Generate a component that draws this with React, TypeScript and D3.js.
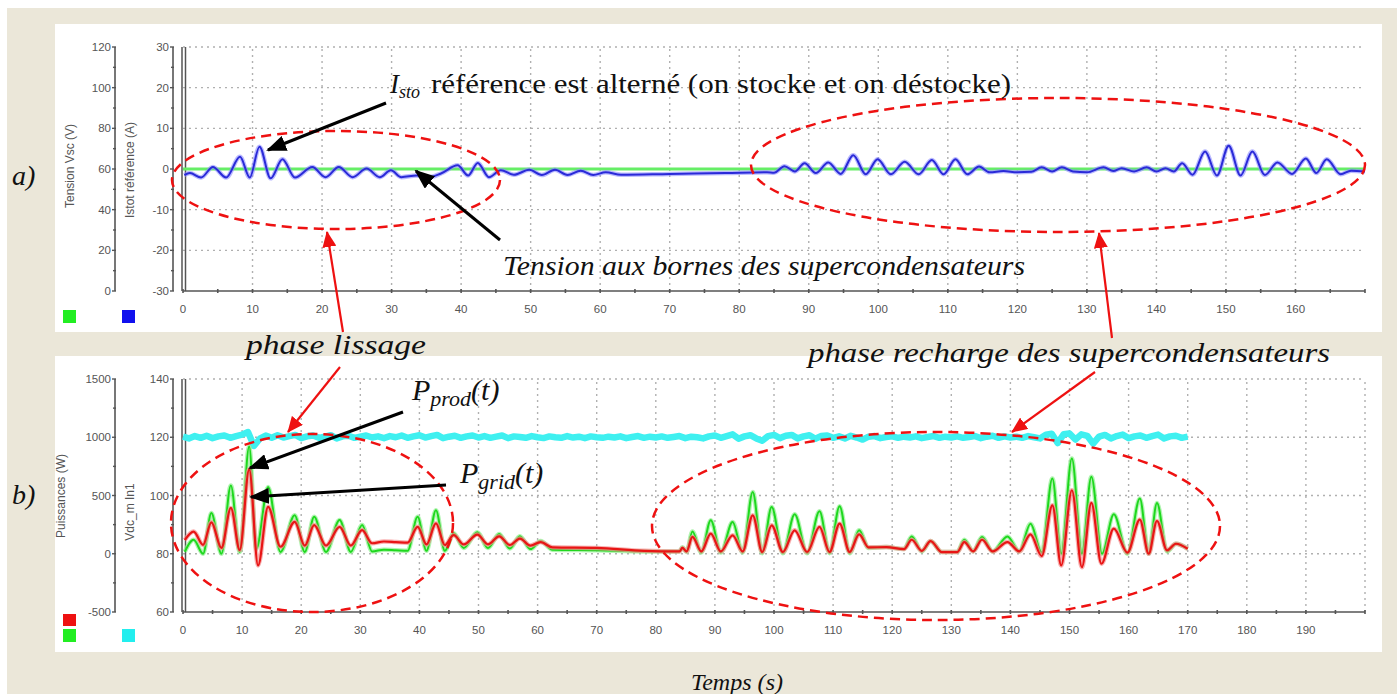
import React from 'react';
import * as d3 from 'd3';

// ---------- DATA ----------
const topXTicks = [0, 10, 20, 30, 40, 50, 60, 70, 80, 90, 100, 110, 120, 130, 140, 150, 160];
const botXTicks = [0, 10, 20, 30, 40, 50, 60, 70, 80, 90, 100, 110, 120, 130, 140, 150, 160, 170, 180, 190];
const vscTicks = [0, 20, 40, 60, 80, 100, 120];
const istoTicks = [-30, -20, -10, 0, 10, 20, 30];
const puisTicks = [-500, 0, 500, 1000, 1500];
const vdcTicks = [60, 80, 100, 120, 140];

// Tension Vsc (green, top) — constant reading on Istot scale 0
const vscLine: [number, number][] = [[0, 0], [170, 0]];

// Istot référence (A) — blue
const istoRef: [number, number][] = [
  [0.2, -1.5], [1.0, -1.0], [2.6, -2.1], [4.3, 0.5], [6.2, -2.1], [8.2, 3.0], [9.6, -2.1], [11.0, 5.5],
  [12.6, -2.3], [14.3, 2.4], [16.1, -2.1], [18.6, 0.5], [20.5, -2.0], [22.4, 0.5], [24.4, -2.0], [26.4, 0.1],
  [28.3, -2.0], [29.9, -0.3], [31.4, -2.0], [33.6, -1.6], [35.5, -2.0], [37.1, -1.1], [39.5, 0.9], [41.0, -1.6],
  [42.4, 1.5], [44.0, -2.0], [45.7, -0.3], [47.6, -1.4], [49.8, -0.2], [51.6, -1.5], [53.5, -0.2], [55.3, -1.5],
  [57.2, -0.4], [59.0, -1.5], [60.8, -0.8], [63, -1.4], [70, -1.2], [78, -1.0], [84, -0.8], [85, -0.9],
  [86.5, 0.7], [88, -0.6], [89.4, 1.4], [91, -1.0], [92.8, 1.6], [94.6, -1.2], [96.4, 3.4], [98.2, -1.3],
  [99.9, 2.4], [101.8, -1.3], [103.8, 1.8], [105.8, -1.3], [107.7, 2.2], [109.4, -1.3], [111.1, 2.4], [112.8, -1.3],
  [114.5, 0.6], [116, -0.8], [118, -0.5], [120, -0.8], [122, -0.7], [123.5, 0.4], [125, -0.6], [126.4, 0.4],
  [128, -0.6], [130, -0.8], [132.4, 0.4], [133.8, -0.5], [135, 0.2], [136.8, -0.6], [138.6, 0.4], [140, -0.6],
  [141.3, 0.2], [142.5, -0.6], [143.7, 1.4], [145.2, -1.4], [147, 4.3], [148.7, -1.6], [150.4, 5.7], [152.1, -1.6],
  [153.8, 4.3], [155.6, -1.5], [157.4, 1.6], [159.5, -1.2], [161.5, 2.6], [163, -1.0], [164.5, 2.4], [166.5, -1.3],
  [168, -0.4], [170, -0.6],
];

// P_prod (W) — green
const pProd: [number, number][] = [
  [0.3, 17], [1.8, 120], [3.4, 0], [4.8, 350], [6.5, 0], [8.1, 585], [9.6, 15], [11.2, 920], [12.4, 40],
  [14.4, 574], [16.5, 15], [18.9, 331], [20.6, 15], [22.2, 317], [24.2, 15], [26.5, 289], [28.4, 15], [30.3, 246],
  [32, 20], [34, 35], [36, 30], [38, 25], [39.7, 317], [41.2, 25], [42.8, 374], [44.3, 25], [45.8, 175],
  [47.5, 50], [49.8, 185], [51.6, 50], [53.5, 170], [55.3, 45], [57, 150], [58.8, 40], [60.5, 110], [62.5, 35],
  [70, 30], [78, 20], [84, 20], [84.5, 55], [85.2, 15], [86.2, 190], [87.7, 10], [89.3, 287], [91, 10],
  [93, 273], [94.7, 10], [96.4, 531], [98, 5], [99.6, 402], [101.5, 5], [103.5, 339], [105.6, 5], [107.7, 364],
  [109.4, 5], [111.1, 408], [112.8, 5], [114.4, 201], [116, 50], [119, 57], [122, 40], [123.3, 149], [125, 20],
  [126.5, 109], [128.4, 14], [131, 14], [132.2, 120], [133.7, 20], [135.2, 143], [137, 20], [139.5, 149],
  [141.5, 20], [143.4, 258], [145.3, 10], [147.1, 646], [148.6, 0], [150.4, 818], [152.1, 0], [153.7, 660],
  [155.5, 0], [157.5, 339], [159.8, 0], [161.9, 474], [163.4, 0], [164.8, 436], [166.5, 20], [168, 86], [170, 43],
];

// P_grid (W) — red
const pGrid: [number, number][] = [
  [0.3, 118], [1.8, 190], [3.4, 76], [4.8, 270], [6.5, 50], [8.1, 393], [9.6, 32], [11.2, 725], [12.7, -100],
  [14.4, 403], [16.5, 60], [18.9, 274], [20.6, 70], [22.2, 246], [24.2, 70], [26.5, 231], [28.4, 70], [30.3, 203],
  [32, 90], [34, 105], [36, 100], [38, 95], [39.7, 231], [41.2, 80], [42.8, 260], [44.3, 75], [45.8, 160],
  [47.5, 80], [49.8, 165], [51.6, 80], [53.5, 150], [55.3, 75], [57, 130], [58.8, 70], [60.5, 100], [62.5, 55],
  [70, 50], [78, 25], [84, 20], [84.5, 50], [85.2, 20], [86.2, 144], [87.7, 20], [89.3, 172], [91, 20],
  [93, 158], [94.7, 20], [96.4, 330], [98, 15], [99.6, 244], [101.5, 15], [103.5, 201], [105.6, 15], [107.7, 230],
  [109.4, 15], [111.1, 258], [112.8, 15], [114.4, 166], [116, 55], [119, 57], [122, 40], [123.3, 120], [125, 25],
  [126.5, 109], [128.4, 14], [131, 14], [132.2, 100], [133.7, 20], [135.2, 120], [137, 20], [139.5, 100],
  [141.5, 20], [143.4, 166], [145.3, -20], [147.1, 416], [148.6, -100], [150.4, 545], [152.1, -115], [153.7, 436],
  [155.4, -86], [157.5, 215], [159.8, 10], [161.9, 293], [163.4, 0], [164.8, 281], [166.5, 30], [168, 86], [170, 43],
];

// Vdc_m (V) — cyan, one reading per second from 0 to 170 s
const vdcM: number[] = [
  120.2, 119.6, 120.4, 119.8, 120.5, 119.7, 120.3, 120.6, 119.8, 120.4, 120.9,
  121.8, 117.0, 119.5, 120.6, 119.8, 120.7, 119.9, 120.4, 120.8, 119.7,
  120.3, 120.6, 119.8, 120.2, 120.7, 119.6, 120.3, 120.5, 119.8, 120.2,
  120.6, 119.9, 120.3, 119.7, 120.4, 120.0, 120.6, 119.8, 120.3, 120.7,
  119.9, 120.4, 120.8, 119.7, 120.2, 120.5, 119.8, 120.3, 120.6, 119.9,
  120.4, 119.8, 120.2, 120.6, 119.7, 120.3, 120.1, 119.8, 120.4, 120.0,
  119.7, 120.3, 120.0, 119.8, 120.4, 119.9, 120.2, 119.7, 120.3, 120.0,
  119.8, 120.2, 119.9, 120.3, 119.7, 120.1, 120.4, 119.8, 120.2, 119.9,
  120.3, 119.8, 120.1, 120.4, 119.7, 120.2, 120.0, 119.6, 120.3, 120.6,
  119.8, 120.4, 121.0, 119.5, 120.3, 120.7, 119.6, 118.8, 120.4, 120.8,
  119.7, 120.5, 120.8, 119.6, 120.3, 120.7, 119.5, 120.4, 120.6, 119.8,
  120.3, 119.6, 120.5, 119.9, 119.2, 120.2, 120.4, 119.7, 120.1, 120.3,
  119.8, 120.2, 119.9, 120.3, 119.7, 120.1, 120.4, 119.8, 120.2, 119.9,
  120.3, 119.8, 120.1, 120.4, 119.7, 120.2, 120.5, 119.8, 120.3, 119.9,
  120.2, 119.8, 120.4, 120.0, 119.6, 120.9, 121.2, 118.0, 121.0, 121.3,
  119.2, 121.0, 120.5, 117.8, 120.2, 120.8, 119.6, 120.4, 120.9, 119.7,
  120.3, 120.6, 119.8, 120.4, 120.9, 119.6, 120.3, 120.5, 119.8, 120.2,
];

// ---------- LAYOUT ----------
const W = 1397;
const H = 694;
const BEIGE = '#ebe7d9';
const AXIS = '#555';
const TICKTXT = '#555';
const GRID = '#b0b0b0';

const xTop = d3.scaleLinear().domain([0, 170]).range([183, 1365]);
const yIsto = d3.scaleLinear().domain([-30, 30]).range([291, 47]);
const yVsc = d3.scaleLinear().domain([0, 120]).range([291, 47]);
const xBot = d3.scaleLinear().domain([0, 200]).range([183, 1365]);
const yVdc = d3.scaleLinear().domain([60, 140]).range([612, 379]);
const yPuis = d3.scaleLinear().domain([-500, 1500]).range([612, 379]);

const tickFont = { fontFamily: '"Liberation Sans", Arial, sans-serif', fontSize: 11.5, fill: TICKTXT } as const;
const serif = '"Liberation Serif", "Times New Roman", serif';

function VAxis({ x, scale, ticks, label, labelX, labelY }: any) {
  const [d0, d1] = scale.domain();
  const step = ticks[1] - ticks[0];
  const minors = ticks.slice(0, -1).map((t: number) => t + step / 2);
  return (
    <g>
      <line x1={x} x2={x} y1={scale(d0)} y2={scale(d1)} stroke={AXIS} strokeWidth={1.6} />
      {ticks.map((t: number) => (
        <g key={'t' + t}>
          <line x1={x - 3} x2={x + 1} y1={scale(t)} y2={scale(t)} stroke={AXIS} strokeWidth={1.4} />
          <text x={x - 4} y={scale(t) + 4} textAnchor="end" {...tickFont}>{t}</text>
        </g>
      ))}
      {minors.map((t: number) => (
        <line key={'m' + t} x1={x - 2} x2={x + 1} y1={scale(t)} y2={scale(t)} stroke={AXIS} strokeWidth={1.4} />
      ))}
      <text transform={`translate(${labelX},${labelY}) rotate(-90)`} textAnchor="middle" {...tickFont} fontSize={12}>{label}</text>
    </g>
  );
}

function HAxis({ y, scale, ticks }: any) {
  const [d0, d1] = scale.domain();
  const minors = d3.range(d0, d1 + 0.001, 5);
  return (
    <g>
      <line x1={scale(d0)} x2={scale(d1)} y1={y} y2={y} stroke={AXIS} strokeWidth={1.6} />
      {minors.map((t: number) => (
        <line key={'m' + t} x1={scale(t)} x2={scale(t)} y1={y - 2} y2={y + 2} stroke={AXIS} strokeWidth={1.6} />
      ))}
      {ticks.map((t: number) => (
        <text key={'l' + t} x={scale(t)} y={y + 22} textAnchor="middle" {...tickFont}>{t}</text>
      ))}
    </g>
  );
}

function Grid({ xs, ys, xVals, yVals }: any) {
  const [x0, x1] = xs.range();
  const [y0, y1] = ys.range();
  return (
    <g stroke={GRID} strokeWidth={1.4} strokeDasharray="2,4">
      {yVals.map((v: number) => (
        <line key={'h' + v} x1={x0} x2={x1} y1={ys(v)} y2={ys(v)} />
      ))}
      {xVals.map((v: number) => (
        <line key={'v' + v} x1={xs(v)} x2={xs(v)} y1={y0} y2={y1} />
      ))}
    </g>
  );
}

export default function App() {
  const lineTop = d3.line<[number, number]>().x(d => xTop(d[0])).y(d => yIsto(d[1])).curve(d3.curveMonotoneX);
  const lineP = d3.line<[number, number]>().x(d => xBot(d[0])).y(d => yPuis(d[1])).curve(d3.curveMonotoneX);
  const lineVdc = d3.line<number>().x((_, i) => xBot(i)).y(d => yVdc(d)).curve(d3.curveLinear);

  const topGridX = topXTicks.filter(t => t > 0);
  const botGridX = [...botXTicks.filter(t => t > 0), 200];

  return (
    <div style={{ position: 'absolute', left: 0, top: 0 }}>
      <svg width={W} height={H} viewBox={`0 0 ${W} ${H}`} style={{ display: 'block' }}>
        <defs>
          <marker id="ahBlack" markerUnits="userSpaceOnUse" markerWidth={20} markerHeight={16} refX={18} refY={8} orient="auto">
            <path d="M0,0 L20,8 L0,16 Z" fill="#000" />
          </marker>
          <marker id="ahRed" markerUnits="userSpaceOnUse" markerWidth={16} markerHeight={14} refX={15} refY={7} orient="auto">
            <path d="M0,0 L16,7 L0,14 Z" fill="#ee1111" />
          </marker>
        </defs>

        <rect x={0} y={0} width={W} height={H} fill="#fff" />
        <rect x={7} y={8} width={W - 7} height={H - 8} fill={BEIGE} />
        <rect x={55} y={24} width={1327} height={308} fill="#fff" />
        <rect x={55} y={356} width={1327} height={296} fill="#fff" />

        {/* ---------- TOP PANEL ---------- */}
        <Grid xs={xTop} ys={yIsto} xVals={topGridX} yVals={[30, 20, 10, 0, -10, -20]} />
        <VAxis x={115} scale={yVsc} ticks={vscTicks} label="Tension Vsc (V)" labelX={74} labelY={166} />
        <VAxis x={173} scale={yIsto} ticks={istoTicks} label="Istot référence (A)" labelX={134} labelY={170} />
        <line x1={182} x2={182} y1={47} y2={291} stroke={AXIS} strokeWidth={1.5} />
        <line x1={185.5} x2={185.5} y1={47} y2={291} stroke={AXIS} strokeWidth={1.5} />
        <HAxis y={291} scale={xTop} ticks={topXTicks} />
        <rect x={63} y={310} width={13} height={13} fill="#22ee22" />
        <rect x={122} y={310} width={13} height={13} fill="#1111ee" />

        <path d={lineTop(vscLine) || ''} fill="none" stroke="#66ee66" strokeWidth={3} />
        <path d={lineTop(istoRef) || ''} fill="none" stroke="#8c8cff" strokeWidth={4.5} opacity={0.6} />
        <path d={lineTop(istoRef) || ''} fill="none" stroke="#2a2ad8" strokeWidth={2} />

        {/* ---------- BOTTOM PANEL ---------- */}
        <Grid xs={xBot} ys={yVdc} xVals={botGridX} yVals={[140, 120, 100, 80]} />
        <VAxis x={115} scale={yPuis} ticks={puisTicks} label="Puissances (W)" labelX={65} labelY={496} />
        <VAxis x={173} scale={yVdc} ticks={vdcTicks} label="Vdc_m In1" labelX={134} labelY={512} />
        <line x1={182} x2={182} y1={379} y2={612} stroke={AXIS} strokeWidth={1.5} />
        <line x1={185.5} x2={185.5} y1={379} y2={612} stroke={AXIS} strokeWidth={1.5} />
        <HAxis y={612} scale={xBot} ticks={botXTicks} />
        <rect x={63} y={614} width={13} height={12} fill="#ee1111" />
        <rect x={63} y={629} width={13} height={13} fill="#22ee22" />
        <rect x={122} y={629} width={13} height={13} fill="#22eeee" />

        <path d={lineVdc(vdcM) || ''} fill="none" stroke="#3ff0f0" strokeWidth={6.5} strokeLinejoin="round" />
        <path d={lineP(pProd) || ''} fill="none" stroke="#8ef08e" strokeWidth={4.5} opacity={0.7} />
        <path d={lineP(pProd) || ''} fill="none" stroke="#1ed81e" strokeWidth={2} />
        <path d={lineP(pGrid) || ''} fill="none" stroke="#f59090" strokeWidth={4.5} opacity={0.7} />
        <path d={lineP(pGrid) || ''} fill="none" stroke="#e81515" strokeWidth={2.2} />

        {/* ---------- ELLIPSES ---------- */}
        <g fill="none" stroke="#ee1111" strokeWidth={2.5} strokeDasharray="10,6">
          <ellipse cx={336} cy={180} rx={164} ry={49} />
          <ellipse cx={1058} cy={165} rx={307} ry={67} />
          <ellipse cx={312} cy={523} rx={141} ry={89} />
          <ellipse cx={936} cy={526} rx={284} ry={94} />
        </g>

        {/* ---------- ANNOTATIONS ---------- */}
        <g stroke="#000" strokeWidth={3}>
          <line x1={386} y1={103} x2={268} y2={150} markerEnd="url(#ahBlack)" />
          <line x1={500} y1={240} x2={416} y2={171} markerEnd="url(#ahBlack)" />
          <line x1={403} y1={412} x2={250} y2={468} markerEnd="url(#ahBlack)" />
          <line x1={446} y1={485} x2={251} y2={497} markerEnd="url(#ahBlack)" />
        </g>
        <g stroke="#ee1111" strokeWidth={2.2}>
          <line x1={343} y1={332} x2={327} y2={232} markerEnd="url(#ahRed)" />
          <line x1={340} y1={367} x2={288} y2={432} markerEnd="url(#ahRed)" />
          <line x1={1112} y1={338} x2={1099} y2={233} markerEnd="url(#ahRed)" />
          <line x1={1095} y1={372} x2={1012} y2={432} markerEnd="url(#ahRed)" />
        </g>

        <text x={390} y={93} fontFamily={serif} fontSize={27} fill="#111">
          <tspan fontStyle="italic">I</tspan>
          <tspan fontStyle="italic" fontSize={18} dy={5}>sto</tspan>
        </text>
        <text x={431} y={93} fontFamily={serif} fontSize={27} fill="#111" textLength={580} lengthAdjust="spacingAndGlyphs">référence est alterné (on stocke et on déstocke)</text>
        <text x={503} y={275} fontFamily={serif} fontSize={27} fontStyle="italic" fill="#111" textLength={522} lengthAdjust="spacingAndGlyphs">Tension aux bornes des supercondensateurs</text>
        <text x={246} y={354} fontFamily={serif} fontSize={28} fontStyle="italic" fill="#111" textLength={180} lengthAdjust="spacingAndGlyphs">phase lissage</text>
        <text x={808} y={362} fontFamily={serif} fontSize={28} fontStyle="italic" fill="#111" textLength={522} lengthAdjust="spacingAndGlyphs">phase recharge des supercondensateurs</text>
        <text x={412} y={400} fontFamily={serif} fontSize={30} fill="#111">
          <tspan fontStyle="italic">P</tspan>
          <tspan fontStyle="italic" fontSize={22} dy={6}>prod</tspan>
          <tspan fontStyle="italic" dy={-6}>(t)</tspan>
        </text>
        <text x={460} y={483} fontFamily={serif} fontSize={30} fill="#111">
          <tspan fontStyle="italic">P</tspan>
          <tspan fontStyle="italic" fontSize={22} dy={6}>grid</tspan>
          <tspan fontStyle="italic" dy={-6}>(t)</tspan>
        </text>
        <text x={12} y={185} fontFamily={serif} fontSize={28} fontStyle="italic" fill="#111">a)</text>
        <text x={12} y={504} fontFamily={serif} fontSize={28} fontStyle="italic" fill="#111">b)</text>
        <text x={691} y={690} fontFamily={serif} fontSize={24} fontStyle="italic" fill="#111" textLength={92} lengthAdjust="spacingAndGlyphs">Temps (s)</text>
      </svg>
    </div>
  );
}
